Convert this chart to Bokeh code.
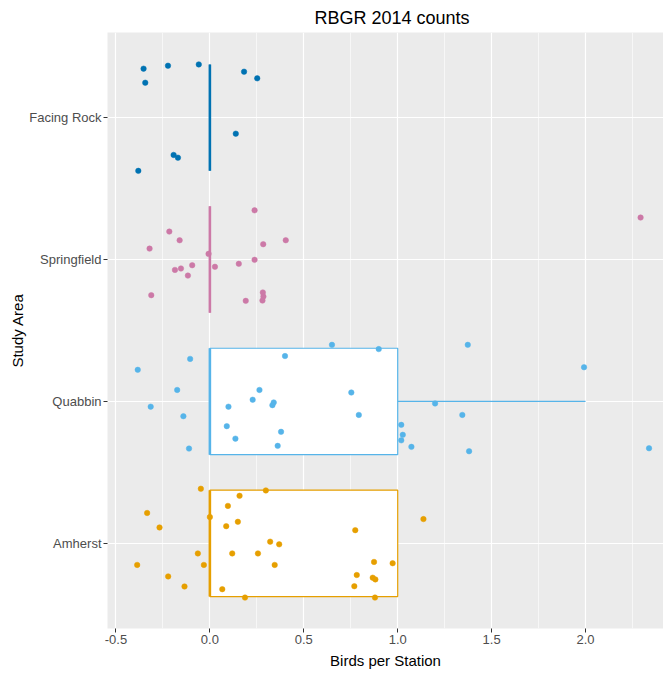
from bokeh.plotting import figure
from bokeh.models import FixedTicker, PrintfTickFormatter, ColumnDataSource
from bokeh.embed import file_html
from bokeh.resources import INLINE

# ---- data ----
areas = ["Amherst", "Quabbin", "Springfield", "Facing Rock"]
area_colors = ["#E69F00", "#56B4E9", "#CC79A7", "#0072B2"]

box_q1 = [0.0, 0.0, 0.0, 0.0]
box_median = [0.0, 0.0, 0.0, 0.0]
box_q3 = [1.0, 1.0, 0.0, 0.0]
whisker_low = [0.0, 0.0, 0.0, 0.0]
whisker_high = [1.0, 2.0, 0.0, 0.0]

# jittered observations: x = birds per station (as plotted), dy = vertical jitter
amherst_x = [-0.048, 0.298, 0.158, -0.334, 0.096, 0.000, 0.149, 0.087, -0.268, 0.774,
             1.137, 0.321, 0.369, -0.064, 0.119, 0.256, -0.387, -0.032, 0.345, 0.874,
             0.973, -0.222, 0.782, 0.867, 0.881, -0.135, 0.066, 0.769, 0.187, 0.879]
amherst_dy = [0.385, 0.373, 0.335, 0.214, 0.264, 0.185, 0.152, 0.121, 0.112, 0.093,
              0.171, 0.012, -0.007, -0.071, -0.071, -0.071, -0.152, -0.152, -0.152, -0.131,
              -0.140, -0.233, -0.223, -0.242, -0.254, -0.304, -0.323, -0.302, -0.382, -0.382]

quabbin_x = [0.650, 0.899, 1.373, -0.384, -0.105, 0.400, 1.992, -0.174, 0.264, 0.753,
             -0.315, 0.228, 0.333, 0.340, 0.099, 1.199, -0.141, 0.793, 1.344, 0.090,
             0.379, 0.136, 1.019, 1.027, 1.019, 1.073, -0.111, 0.361, 1.380, 2.338]
quabbin_dy = [0.399, 0.369, 0.399, 0.223, 0.300, 0.320, 0.241, 0.081, 0.081, 0.063,
              -0.037, 0.012, -0.026, -0.007, -0.037, -0.014, -0.104, -0.095, -0.095, -0.174,
              -0.214, -0.262, -0.165, -0.235, -0.274, -0.320, -0.332, -0.313, -0.351, -0.330]

springfield_x = [0.238, -0.216, -0.161, 0.404, -0.321, 0.284, -0.007, 0.238, 0.027, 0.154,
                 -0.094, -0.186, -0.154, -0.117, -0.312, 0.191, 0.282, 0.285, 0.280, 2.293]
springfield_dy = [0.347, 0.197, 0.136, 0.136, 0.077, 0.108, 0.040, -0.002, -0.051, -0.030,
                  -0.040, -0.073, -0.063, -0.113, -0.251, -0.291, -0.232, -0.261, -0.289, 0.296]

facing_x = [-0.353, -0.223, -0.059, 0.182, 0.252, -0.344, 0.138, -0.193, -0.170, -0.381]
facing_dy = [0.345, 0.366, 0.375, 0.324, 0.277, 0.246, -0.113, -0.263, -0.282, -0.375]

points_x = [amherst_x, quabbin_x, springfield_x, facing_x]
points_dy = [amherst_dy, quabbin_dy, springfield_dy, facing_dy]

x_ticks = [-0.5, 0.0, 0.5, 1.0, 1.5, 2.0]
x_minor = [-0.25, 0.25, 0.75, 1.25, 1.75, 2.25]

# ---- figure ----
FONT = "Liberation Sans"
p = figure(width=663, height=675, output_backend="svg", toolbar_location=None,
           x_range=(-0.545, 2.415), y_range=(0.4, 4.6),
           title="RBGR 2014 counts",
           min_border_left=107, min_border_right=0, min_border_top=32, min_border_bottom=47)

p.background_fill_color = "#EBEBEB"
p.border_fill_color = "white"
p.outline_line_color = None

p.title.align = "left"
p.title.text_font = FONT
p.title.text_font_size = "18px"
p.title.text_font_style = "normal"
p.title.text_color = "black"
p.title.standoff = 9
p.title.offset = 207

p.xaxis.ticker = FixedTicker(ticks=x_ticks, minor_ticks=x_minor)
p.xaxis.formatter = PrintfTickFormatter(format="%.1f")
p.yaxis.ticker = FixedTicker(ticks=[1, 2, 3, 4])
p.yaxis.major_label_overrides = {i + 1: a for i, a in enumerate(areas)}

for ax in (p.xaxis, p.yaxis):
    ax.axis_line_color = None
    ax.major_tick_in = 0
    ax.major_tick_out = 4
    ax.major_tick_line_color = "#333333"
    ax.minor_tick_line_color = None
    ax.major_label_text_font = FONT
    ax.major_label_text_font_size = "13px"
    ax.major_label_text_color = "#4D4D4D"
    ax.major_label_standoff = 2
    ax.axis_label_text_font = FONT
    ax.axis_label_text_font_size = "15px"
    ax.axis_label_text_font_style = "normal"
    ax.axis_label_text_color = "black"
    ax.axis_label_standoff = 5

p.yaxis.axis_label_standoff = 0
p.xaxis.axis_label = "Birds per Station"
p.yaxis.axis_label = "Study Area"

p.xgrid.grid_line_color = "white"
p.xgrid.grid_line_width = 1.2
p.xgrid.minor_grid_line_color = "white"
p.xgrid.minor_grid_line_width = 0.6
p.ygrid.grid_line_color = "white"
p.ygrid.grid_line_width = 1.2

half = 0.375
for i, a in enumerate(areas):
    yc = i + 1
    col = area_colors[i]
    # whiskers
    p.segment(x0=[whisker_low[i], box_q3[i]], y0=[yc, yc],
              x1=[box_q1[i], whisker_high[i]], y1=[yc, yc],
              line_color=col, line_width=1.2)
    # box
    p.quad(left=[box_q1[i]], right=[box_q3[i]], bottom=[yc - half], top=[yc + half],
           fill_color="white", line_color=col, line_width=1.2)
    # median
    p.segment(x0=[box_median[i]], y0=[yc - half], x1=[box_median[i]], y1=[yc + half],
              line_color=col, line_width=2.6)

for i, a in enumerate(areas):
    yc = i + 1
    src = ColumnDataSource(dict(x=points_x[i], y=[yc + d for d in points_dy[i]]))
    p.scatter("x", "y", source=src, size=5.5, fill_color=area_colors[i],
              line_color=area_colors[i], line_width=0.5)

open("out.html", "w").write(file_html(p, INLINE))
